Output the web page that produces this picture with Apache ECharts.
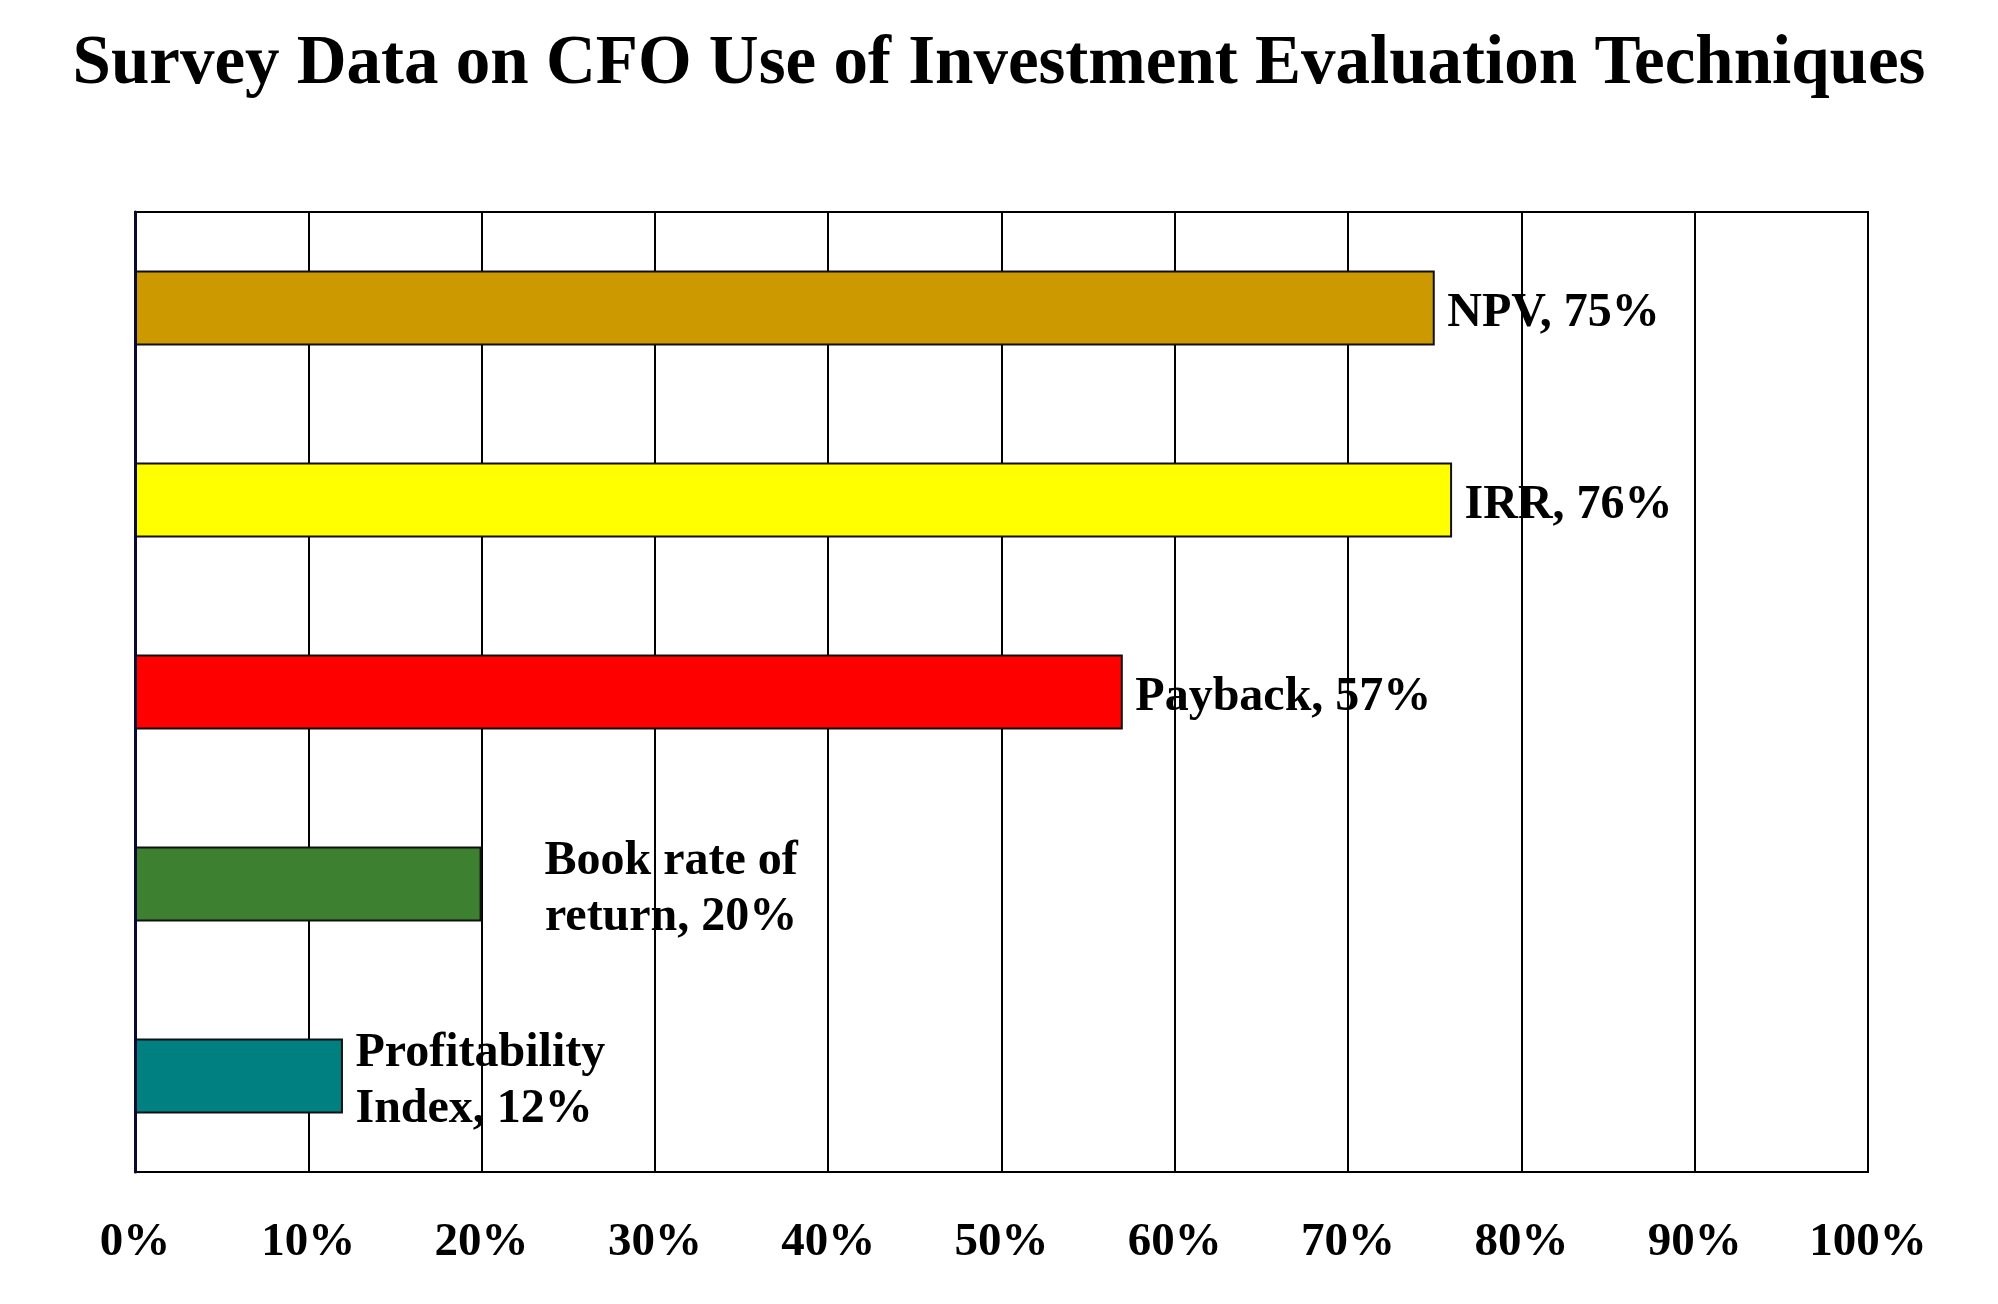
<!DOCTYPE html>
<html>
<head>
<meta charset="utf-8">
<style>
  html, body { margin: 0; padding: 0; background: #ffffff; }
  #chart { width: 1998px; height: 1304px; }
</style>
<script src="https://cdn.jsdelivr.net/npm/echarts@6/dist/echarts.min.js"></script>
</head>
<body>
<div id="chart"></div>
<script>
const titleText = 'Survey Data on CFO Use of Investment Evaluation Techniques';
const categories = ['NPV', 'IRR', 'Payback', 'Book rate of return', 'Profitability Index'];
const labelNames = ['NPV', 'IRR', 'Payback', 'Book rate of\nreturn', 'Profitability\nIndex'];
const values = [75, 76, 57, 20, 12];
const colors = ['#CC9900', '#FFFF00', '#FF0000', '#3D8030', '#008080'];
const xTicks = [0, 10, 20, 30, 40, 50, 60, 70, 80, 90, 100];

const FONT = "'Liberation Serif', 'Times New Roman', serif";

const chart = echarts.init(document.getElementById('chart'), null, { renderer: 'canvas' });

const barData = values.map((v, i) => ({
  value: v,
  itemStyle: { color: colors[i] }
}));

const labelData = values.map((v, i) => {
  const centered = labelNames[i].indexOf('Book') === 0;
  return {
    value: [v, categories[i]],
    label: centered
      ? { distance: 189, align: 'center' }
      : { distance: 12, align: 'left' }
  };
});

chart.setOption({
  backgroundColor: '#ffffff',
  animation: false,
  title: {
    text: titleText,
    left: 'center',
    top: 26,
    textStyle: {
      fontFamily: FONT,
      fontWeight: 'bold',
      fontSize: 69,
      color: '#000000'
    }
  },
  grid: {
    left: 135,
    right: 130,
    top: 212,
    bottom: 132,
    show: true,
    borderColor: '#000000',
    borderWidth: 2,
    backgroundColor: 'transparent'
  },
  xAxis: {
    type: 'value',
    min: xTicks[0],
    max: xTicks[xTicks.length - 1],
    interval: 10,
    z: 2,
    axisLine: { show: false },
    axisTick: { show: false },
    splitLine: { show: true, lineStyle: { color: '#000000', width: 2 } },
    axisLabel: {
      formatter: '{value}%',
      margin: 47,
      fontFamily: FONT,
      fontWeight: 'bold',
      fontSize: 47,
      color: '#000000'
    }
  },
  yAxis: {
    type: 'category',
    data: categories,
    inverse: true,
    z: 4,
    axisLine: { show: true, lineStyle: { color: '#0A0A30', width: 3 } },
    axisTick: { show: false },
    axisLabel: { show: false },
    splitLine: { show: false }
  },
  series: [
    {
      type: 'bar',
      data: barData,
      barWidth: 75,
      z: 3,
      itemStyle: { borderColor: '#111111', borderWidth: 2 },
      label: { show: false }
    },
    {
      type: 'scatter',
      data: labelData,
      symbolSize: 1,
      z: 1,
      itemStyle: { color: '#ffffff', opacity: 1 },
      emphasis: { disabled: true },
      label: {
        show: true,
        position: 'right',
        offset: [0, 6],
        fontFamily: FONT,
        fontWeight: 'bold',
        fontSize: 48,
        lineHeight: 56,
        color: '#000000',
        opacity: 1,
        textBorderWidth: 0,
        formatter: function (p) {
          return labelNames[p.dataIndex] + ', ' + p.value[0] + '%';
        }
      }
    }
  ]
});
</script>
</body>
</html>
